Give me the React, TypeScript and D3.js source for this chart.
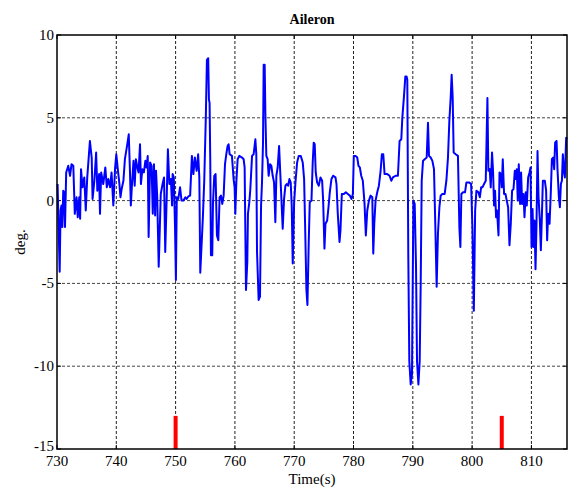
import React from "react";
import * as d3 from "d3";

const TITLE = "Aileron";
const X_LABEL = "Time(s)";
const Y_LABEL = "deg.";
const X_TICKS = [730, 740, 750, 760, 770, 780, 790, 800, 810];
const Y_TICKS = [10, 5, 0, -5, -10, -15];
const X_DOMAIN = [730, 816];
const Y_DOMAIN = [-15, 10];
const MARKER_TIMES = [750, 805];
const MARKER_TOP = -13;

const TIMES = [
  730.1, 730.45, 730.6, 730.75, 730.9, 731.05, 731.2, 731.35, 731.55, 731.9, 732.2, 732.45, 732.75, 733.0, 733.3, 733.5, 733.75, 733.9, 734.05, 734.3, 734.6, 734.85, 735.1, 735.55, 735.85, 736.0, 736.3, 736.6, 736.8, 737.1, 737.25, 737.45, 737.8, 738.15, 738.4, 738.65, 738.95, 739.2, 739.5, 739.8, 740.0, 740.25, 740.5, 740.7, 740.9, 741.2, 741.45, 741.85, 742.1, 742.3, 742.45, 742.65, 742.9, 743.1, 743.3, 743.55, 743.75, 744.0, 744.15, 744.4, 744.65, 744.9, 745.1, 745.3, 745.45, 745.7, 745.95, 746.15, 746.35, 746.55, 746.7, 746.9, 747.15, 747.5, 747.8, 748.05, 748.25, 748.5, 748.7, 748.95, 749.2, 749.4, 749.5, 749.7, 749.9, 750.05, 750.2, 750.45, 750.75, 751.0, 751.3, 751.65, 751.85, 752.15, 752.45, 752.75, 753.0, 753.25, 753.55, 753.8, 754.0,
  754.16, 754.6, 754.83, 755.1, 755.28, 755.5, 755.62, 755.73, 755.84, 755.96, 756.18, 756.3, 756.52, 756.74, 756.97, 757.2, 757.42, 757.65, 757.87, 758.1, 758.33, 758.55, 758.77,
  758.94, 759.11, 759.5, 759.78, 759.95, 760.07, 760.24, 760.46, 760.74, 761.2, 761.47, 761.64, 761.87, 762.09, 762.2, 762.43, 762.6, 762.89, 763.16, 763.45, 763.61, 763.73, 764.0, 764.23, 764.41, 764.57, 764.74, 764.85, 765.02, 765.14, 765.3, 765.52, 765.69, 765.93, 766.15, 766.37, 766.6, 766.82, 766.99, 767.21, 767.45, 767.67, 767.84, 768.06, 768.29, 768.52, 768.74, 768.97, 769.19, 769.41, 769.58, 769.75, 769.99, 770.21, 770.49, 770.76, 771.1, 771.44, 771.67, 771.84, 772.06, 772.23, 772.45, 772.62, 772.91, 773.12, 773.29, 773.46, 773.63, 773.86, 774.14, 774.43, 774.71, 774.88, 775.1,
  775.27, 775.56, 775.78, 776.0, 776.28, 776.57, 776.96, 777.13, 777.35, 777.64, 777.8, 778.03, 778.37, 778.7, 779.04, 779.38, 779.67, 779.89, 780.05, 780.34, 780.63, 780.84, 781.07, 781.3, 781.57, 781.86, 782.08, 782.32, 782.6, 782.88, 783.17, 783.33, 783.5, 783.72, 784.0, 784.28, 784.57, 784.78, 785.02, 785.24, 785.69, 786.08, 786.37, 786.64, 787.1, 787.49, 787.77, 788.06,
  788.23, 788.5, 788.74, 788.95, 789.07, 789.24, 789.41, 789.64, 789.86, 790.1, 790.32, 790.54, 790.71, 790.94, 791.16, 791.33, 791.5, 791.72, 792.0, 792.34, 792.56, 792.73, 793.01, 793.3, 793.57, 793.8, 794.02, 794.24, 794.48, 794.7, 794.98, 795.37, 795.66, 795.93, 796.16, 796.39, 796.55, 796.72, 796.89, 797.23, 797.61, 797.85, 798.02, 798.19, 798.46, 798.8, 799.04, 799.48, 799.83, 800.05, 800.29, 800.51, 800.73, 801.07, 801.3, 801.52,
  801.74, 802.01, 802.3, 802.47, 802.58, 802.74, 802.97, 803.14, 803.36, 803.53, 803.7, 803.87, 804.04, 804.2, 804.45, 804.62, 804.84, 805.0, 805.17, 805.39, 805.63, 805.84, 806.07, 806.3, 806.52, 806.74, 806.98, 807.2, 807.36, 807.53, 807.7, 807.87, 808.09, 808.26, 808.43, 808.67, 808.83, 809.05, 809.22, 809.45, 809.68, 809.85, 810.02, 810.19, 810.36, 810.52, 810.69, 810.86, 811.03, 811.2, 811.42, 811.59, 811.76, 811.93, 812.26, 812.48, 812.65, 812.82, 813.06, 813.28, 813.45, 813.67, 813.84, 814.0, 814.24, 814.41, 814.63, 814.8, 814.97, 815.14, 815.3, 815.47, 815.64, 815.86, 816.0,
];

const VALUES = [
  1.0, -4.3, -0.6, -0.3, -1.6, 0.6, 0.5, -1.6, 1.7, 2.1, 1.5, 2.2, 2.1, -0.8, 0.2, -1.0, 0.2, -1.1, 1.9, 0.8, 1.4, -0.6, 1.4, 3.6, 2.6, 0.1, 1.2, 2.9, 0.6, 1.6, -0.8, 1.7, 1.0, 2.0, 0.8, 1.3, 0.8, 1.7, -0.3, 2.0, 2.8, 1.9, 1.1, 0.2, 0.7, 1.2, 2.5, 3.4, 4.0, 1.8, -0.3, 1.0, 2.4, 0.9, 2.5, 2.0, 1.7, 3.4, 1.0, 1.9, 1.7, 2.4, 2.0, 2.7, -2.2, 2.3, 2.1, -0.8, 2.2, -0.9, 1.8, 0.2, -4.0, 0.4, 1.0, 1.4, -3.1, 0.2, 3.1, 1.0, 1.3, -0.3, 1.6, 1.4, -1.6, -4.8, 0.2, 0.1, 0.8, 0.0, 0.0, 0.2, 0.1, 0.25, 0.3, 2.7, 1.6, 2.6, 1.8, 2.8, 1.4,
  -4.35, -1.0, 1.2, 5.1, 8.5, 8.6, 6.1, 5.9, 2.6, -3.3, -3.3, -0.2, 1.5, 1.6, -2.1, -2.4, 0.2, 0.3, -0.2, 0.3, 2.2, 2.8, 3.3,
  3.4, 2.8, 2.7, 1.3, 0.8, -0.8, 1.1, 2.5, 2.7, 2.6, 2.5, 2.0, -5.4, -3.7, -0.8, -0.1, 0.7, 2.7, 2.8, 3.7, 2.8, -3.1, -6.0, -5.8, -0.3, 1.1, 3.5, 8.2, 8.2, 5.2, 2.7, 2.5, 1.5, 2.2, 2.1, 1.5, 1.1, -1.3, 1.5, 2.0, 3.3, 1.5, 0.1, -1.7, 0.1, 0.9, 1.0, 0.9, 1.3, 1.1, -0.3, -3.8, -0.1, 1.1, 2.3, 2.7, 2.7, 2.3, 1.3, -1.5, -5.4, -6.3, -2.5, -0.1, 0.0, 2.3, 3.5, 3.4, 1.7, 1.1, 0.9, 1.4, 1.2, 0.0, -2.9,
  -1.4, -1.2, -0.4, 0.5, 1.3, 1.5, 1.4, 1.0, -0.8, -2.5, -1.8, 0.4, 0.4, 0.5, 0.4, 0.3, 0.1, 0.4, 2.7, 2.7, 2.6, 2.1, 2.0, 1.5, 1.2, -0.2, -2.1, -0.6, 0.0, 0.3, 0.2, -3.2, -1.4, 0.0, 0.5, 0.9, 1.8, 2.8, 2.8, 1.6, 1.6, 1.5, 1.2, 1.4, 1.5, 1.5, 3.6, 3.7,
  5.0, 6.25, 7.5, 7.5, 7.3, -3.4, -9.7, -11.1, -10.5, 0.0, -0.2, -4.0, -9.7, -11.1, -9.7, -5.0, 1.2, 2.4, 2.5, 2.6, 4.7, 2.7, 2.6, 2.4, 1.9, -1.6, -5.2, -2.0, -0.4, 0.3, 0.4, 0.4, 1.2, 2.6, 4.8, 6.25, 7.6, 6.25, 2.9, 2.8, 2.7, -1.6, -2.8, 0.4, 0.5, 0.5, 1.1, 1.1, 1.0, -1.6, -6.65, -0.6, 0.6, 0.5, 0.2, 0.8,
  0.8, 1.0, 1.2, 4.25, 6.2, 1.8, 1.9, 0.8, 2.9, 1.8, -0.3, 0.6, -1.0, -0.6, -2.1, 1.7, 1.6, 0.8, 2.5, 0.4, 0.4, 0.0, -0.4, -2.7, -1.4, 0.6, 0.7, 1.8, 1.3, 1.9, 0.0, 2.2, -0.2, 1.7, -0.2, 0.4, -1.0, 0.5, -0.3, 1.4, 1.7, 2.0, -2.8, -0.5, -2.8, -1.2, -4.15, -1.4, 3.0, 0.2, -1.2, -3.0, -1.0, 1.2, 1.2, 0.6, -2.4, -0.8, -1.4, 0.6, 2.5, 2.6, 1.9, 3.5, 3.6, 1.8, 0.2, -0.4, 1.0, 1.2, 2.8, 1.8, 1.4, 3.8, 3.7,
];

const W = 569;
const H = 489;
const M = { left: 57, right: 2, top: 35, bottom: 40 };

export default function App() {
  const x = d3.scaleLinear().domain(X_DOMAIN).range([M.left, W - M.right]);
  const y = d3.scaleLinear().domain(Y_DOMAIN).range([H - M.bottom, M.top]);
  const pts: [number, number][] = TIMES.map((t, i) => [t, VALUES[i]]);
  const line = d3
    .line<[number, number]>()
    .x((d) => x(d[0]))
    .y((d) => y(d[1]));
  const x0 = x(X_DOMAIN[0]);
  const x1 = x(X_DOMAIN[1]);
  const y0 = y(Y_DOMAIN[0]);
  const y1 = y(Y_DOMAIN[1]);
  const textStyle = { fontFamily: "Liberation Serif, Times New Roman, serif" };
  return (
    <svg
      width={W}
      height={H}
      style={{ position: "absolute", left: 0, top: 0, background: "#fff" }}
    >
      <rect x={0} y={0} width={W} height={H} fill="#fff" />
      {X_TICKS.filter((t) => t > X_DOMAIN[0]).map((t) => (
        <line key={"gx" + t} x1={x(t)} x2={x(t)} y1={y0} y2={y1} stroke="#222" strokeWidth={1} strokeDasharray="3,2" />
      ))}
      {Y_TICKS.filter((v) => v > Y_DOMAIN[0] && v < Y_DOMAIN[1]).map((v) => (
        <line key={"gy" + v} x1={x0} x2={x1} y1={y(v)} y2={y(v)} stroke="#444" strokeWidth={1} strokeDasharray="3,2" />
      ))}
      {X_TICKS.map((t) => (
        <g key={"tx" + t}>
          <line x1={x(t)} x2={x(t)} y1={y0} y2={y0 - 4} stroke="#000" />
          <line x1={x(t)} x2={x(t)} y1={y1} y2={y1 + 4} stroke="#000" />
        </g>
      ))}
      {Y_TICKS.map((v) => (
        <g key={"ty" + v}>
          <line x1={x0} x2={x0 + 4} y1={y(v)} y2={y(v)} stroke="#000" />
          <line x1={x1} x2={x1 - 4} y1={y(v)} y2={y(v)} stroke="#000" />
        </g>
      ))}
      <path d={line(pts) || ""} fill="none" stroke="#0000ff" strokeWidth={2} strokeLinejoin="round" />
      {MARKER_TIMES.map((t) => (
        <line key={"m" + t} x1={x(t)} x2={x(t)} y1={y(Y_DOMAIN[0])} y2={y(MARKER_TOP)} stroke="#ff0000" strokeWidth={4} />
      ))}
      <rect x={x0} y={y1} width={x1 - x0} height={y0 - y1} fill="none" stroke="#000" strokeWidth={1.5} />
      {Y_TICKS.map((v) => (
        <text key={"ly" + v} x={x0 - 3} y={y(v) + (v === Y_DOMAIN[0] ? 2 : 5)} textAnchor="end" fontSize={15} style={textStyle}>
          {v}
        </text>
      ))}
      {X_TICKS.map((t) => (
        <text key={"lx" + t} x={x(t)} y={y0 + 17} textAnchor="middle" fontSize={15} style={textStyle}>
          {t}
        </text>
      ))}
      <text x={(x0 + x1) / 2} y={H - 5} textAnchor="middle" fontSize={15} style={textStyle}>
        {X_LABEL}
      </text>
      <text x={0} y={0} transform={`translate(25, ${(y0 + y1) / 2}) rotate(-90)`} textAnchor="middle" fontSize={15} style={textStyle}>
        {Y_LABEL}
      </text>
      <text x={(x0 + x1) / 2} y={y1 - 11} textAnchor="middle" fontSize={14} fontWeight="bold" style={textStyle}>
        {TITLE}
      </text>
    </svg>
  );
}
